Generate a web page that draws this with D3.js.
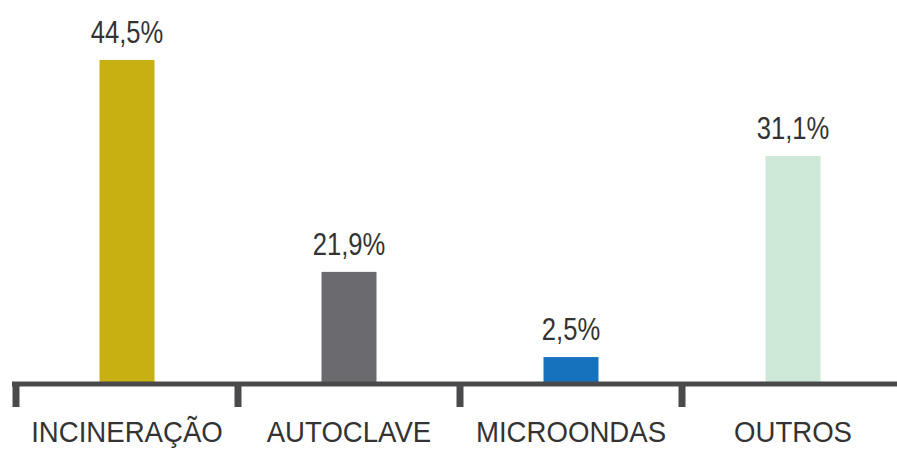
<!DOCTYPE html>
<html><head><meta charset="utf-8">
<script src="https://cdn.jsdelivr.net/npm/d3@7"></script>
<style>html,body{margin:0;padding:0;background:#fff;}</style>
</head><body>
<svg id="c" width="897" height="451"></svg>
<script>
const categories = ["INCINERAÇÃO", "AUTOCLAVE", "MICROONDAS", "OUTROS"];
// bar heights as drawn in the picture (percent units)
const barValues = [44.5, 15.4, 3.7, 31.3];
// printed value labels
const valueLabels = ["44,5%", "21,9%", "2,5%", "31,1%"];
const colors = ["#c8b013", "#6b6b6f", "#1672bd", "#cde8d7"];

const svg = d3.select("#c");
const x = d3.scaleBand().domain(categories).range([16, 904]).padding(0);
const y = d3.scaleLinear().domain([0, 44.5]).range([384, 60]);
const barW = 55;
const font = "'Liberation Sans', Arial, sans-serif";
const cx = d => x(d) + x.bandwidth() / 2;

svg.selectAll("rect.bar").data(categories).join("rect")
  .attr("class", "bar")
  .attr("x", d => cx(d) - barW / 2)
  .attr("width", barW)
  .attr("y", (d, i) => y(barValues[i]))
  .attr("height", (d, i) => y(0) - y(barValues[i]))
  .attr("fill", (d, i) => colors[i]);

svg.selectAll("text.val").data(categories).join("text")
  .attr("class", "val")
  .attr("transform", (d, i) => `translate(${cx(d)},${y(barValues[i]) - 17}) scale(0.8,1)`)
  .attr("text-anchor", "middle")
  .attr("font-family", font)
  .attr("font-size", 32)
  .attr("fill", "#333")
  .text((d, i) => valueLabels[i]);

// axis line
svg.append("line")
  .attr("x1", 12).attr("x2", 897)
  .attr("y1", y(0)).attr("y2", y(0))
  .attr("stroke", "#4a4a4c").attr("stroke-width", 5);

// ticks at band starts
svg.selectAll("line.tick").data(categories).join("line")
  .attr("class", "tick")
  .attr("x1", d => x(d)).attr("x2", d => x(d))
  .attr("y1", y(0)).attr("y2", 407)
  .attr("stroke", "#4a4a4c").attr("stroke-width", 7);

svg.selectAll("text.cat").data(categories).join("text")
  .attr("class", "cat")
  .attr("transform", d => `translate(${cx(d)},442) scale(0.92,1)`)
  .attr("text-anchor", "middle")
  .attr("font-family", font)
  .attr("font-size", 30)
  .attr("fill", "#333")
  .text(d => d);
</script>
</body></html>
